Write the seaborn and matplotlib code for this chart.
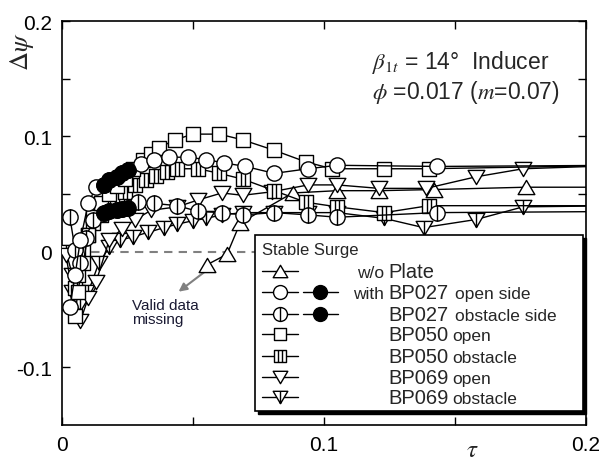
import numpy as np
import pandas as pd
import matplotlib
matplotlib.use("Agg")
import matplotlib.pyplot as plt
import seaborn as sns
from matplotlib.path import Path
from matplotlib.patches import Rectangle

# ---------------- data ----------------
wo_tau = [0.0555, 0.063, 0.068, 0.088, 0.105, 0.121, 0.142, 0.177, 0.215]
wo_psi = [-0.011, -0.002, 0.025, 0.051, 0.053, 0.053, 0.054, 0.056, 0.056]

bp027o_tau = [0.003, 0.005, 0.007, 0.010, 0.013, 0.016, 0.018, 0.021, 0.023, 0.025,
              0.030, 0.035, 0.041, 0.048, 0.055, 0.062, 0.070, 0.081, 0.094, 0.105, 0.143, 0.215]
bp027o_psi = [-0.048, -0.020, 0.010, 0.042, 0.056, 0.058, 0.062, 0.065, 0.068, 0.071,
              0.076, 0.080, 0.082, 0.082, 0.080, 0.077, 0.074, 0.068, 0.072, 0.075, 0.074, 0.075]
bp027o_surge = [False] * 5 + [True] * 5 + [False] * 12

bp027b_tau = [0.003, 0.005, 0.007, 0.009, 0.012, 0.016, 0.018, 0.021, 0.023, 0.025,
              0.029, 0.035, 0.044, 0.052, 0.061, 0.069, 0.081, 0.094, 0.105, 0.143, 0.215]
bp027b_psi = [0.030, 0.002, -0.010, 0.012, 0.028, 0.034, 0.035, 0.036, 0.037, 0.038,
              0.043, 0.042, 0.040, 0.035, 0.034, 0.032, 0.034, 0.032, 0.030, 0.034, 0.035]
bp027b_surge = [False] * 5 + [True] * 5 + [False] * 11

bp050o_tau = [0.005, 0.006, 0.008, 0.010, 0.012, 0.015, 0.018, 0.021, 0.024, 0.027, 0.031, 0.034,
              0.037, 0.043, 0.050, 0.060, 0.069, 0.081, 0.093, 0.103, 0.123, 0.140, 0.215]
bp050o_psi = [-0.056, -0.035, -0.010, 0.015, 0.030, 0.042, 0.050, 0.057, 0.063, 0.072, 0.080, 0.085,
              0.090, 0.097, 0.102, 0.102, 0.097, 0.088, 0.078, 0.072, 0.072, 0.072, 0.075]

bp050b_tau = [0.005, 0.006, 0.008, 0.010, 0.012, 0.015, 0.018, 0.021, 0.024, 0.028, 0.032, 0.036,
              0.040, 0.044, 0.052, 0.060, 0.069, 0.081, 0.093, 0.105, 0.123, 0.140, 0.215]
bp050b_psi = [-0.031, -0.020, 0.000, 0.015, 0.025, 0.032, 0.040, 0.046, 0.052, 0.058, 0.062, 0.066,
              0.069, 0.072, 0.072, 0.068, 0.063, 0.053, 0.043, 0.039, 0.034, 0.040, 0.040]

bp069o_tau = [0.0015, 0.004, 0.007, 0.010, 0.013, 0.018, 0.023, 0.028, 0.034, 0.044, 0.052,
              0.061, 0.069, 0.080, 0.094, 0.105, 0.121, 0.139, 0.158, 0.176, 0.215]
bp069o_psi = [-0.003, -0.035, -0.060, -0.040, -0.026, 0.010, 0.020, 0.028, 0.036, 0.039, 0.045,
              0.051, 0.049, 0.052, 0.058, 0.058, 0.055, 0.055, 0.065, 0.072, 0.075]

bp069b_tau = [0.0015, 0.004, 0.007, 0.010, 0.014, 0.018, 0.022, 0.027, 0.033, 0.039, 0.044, 0.050,
              0.055, 0.061, 0.069, 0.081, 0.094, 0.105, 0.123, 0.138, 0.158, 0.176, 0.215]
bp069b_psi = [0.000, -0.020, -0.045, -0.035, -0.010, 0.004, 0.010, 0.013, 0.017, 0.021, 0.024, 0.027,
              0.029, 0.032, 0.034, 0.034, 0.034, 0.034, 0.029, 0.021, 0.028, 0.039, 0.040]

x_ticks = [0, 0.05, 0.1, 0.15, 0.2]
x_ticklabels = ["0", "", "0.1", "", "0.2"]
y_ticks = [-0.1, -0.05, 0, 0.05, 0.1, 0.15, 0.2]
y_ticklabels = ["-0.1", "", "0", "", "0.1", "", "0.2"]

# ---------------- markers ----------------
M, L = Path.MOVETO, Path.LINETO
def compound(outline, lines):
    paths = [outline]
    for (a, b) in lines:
        paths.append(Path([a, b], [M, L]))
    return Path.make_compound_path(*paths)

circ = Path.unit_circle()
circ_bar = compound(circ, [((0, -1), (0, 1))])
sq = Path([(-1, -1), (1, -1), (1, 1), (-1, 1), (-1, -1)], [M, L, L, L, Path.CLOSEPOLY])
sq_bar = compound(sq, [((-0.33, -1), (-0.33, 1)), ((0.33, -1), (0.33, 1))])
tri_up = Path([(-1, -0.85), (1, -0.85), (0, 0.85), (-1, -0.85)], [M, L, L, Path.CLOSEPOLY])
tri_dn = Path([(-1, 0.85), (1, 0.85), (0, -0.85), (-1, 0.85)], [M, L, L, Path.CLOSEPOLY])
tri_dn_bar = compound(tri_dn, [((0, 0.85), (0, -0.85))])

# ---------------- style ----------------
sns.set_style("ticks")
plt.rcParams["font.family"] = ["Liberation Sans", "DejaVu Sans"]
plt.rcParams["mathtext.fontset"] = "stix"

W, H = 606, 464
fig = plt.figure(figsize=(W / 100, H / 100), dpi=100)
AX_L, AX_R, AX_T, AX_B = 62, 586, 22, 426
ax = fig.add_axes([AX_L / W, 1 - AX_B / H, (AX_R - AX_L) / W, (AX_B - AX_T) / H])

def axp(px, py):
    return ((px - AX_L) / (AX_R - AX_L), (AX_B - py) / (AX_B - AX_T))

ax.axhline(0, xmin=0, xmax=0.4, color="#808080", ls="--", lw=1.5, dashes=(4, 3), zorder=1)

series = [
    ("w/o Plate", wo_tau, wo_psi, tri_up, 12),
    ("BP069 obstacle", bp069b_tau, bp069b_psi, tri_dn_bar, 12),
    ("BP069 open", bp069o_tau, bp069o_psi, tri_dn, 12),
    ("BP050 obstacle", bp050b_tau, bp050b_psi, sq_bar, 10.5),
    ("BP050 open", bp050o_tau, bp050o_psi, sq, 10.5),
    ("BP027 obstacle", bp027b_tau, bp027b_psi, circ_bar, 11),
    ("BP027 open", bp027o_tau, bp027o_psi, circ, 11),
]
for i, (name, t, p, mk, ms) in enumerate(series):
    df = pd.DataFrame({"tau": t, "psi": p})
    sns.lineplot(data=df, x="tau", y="psi", ax=ax, sort=False, estimator=None,
                 color="black", lw=1.0, marker=mk, markersize=ms, mfc="white",
                 mec="black", mew=1.0, zorder=3 + i, clip_on=True)

for t, p, s in [(bp027o_tau, bp027o_psi, bp027o_surge), (bp027b_tau, bp027b_psi, bp027b_surge)]:
    df = pd.DataFrame({"tau": t, "psi": p, "surge": s})
    df = df[df["surge"]]
    sns.lineplot(data=df, x="tau", y="psi", ax=ax, sort=False, estimator=None,
                 color="black", lw=1.0, marker="o", markersize=11, mfc="black",
                 mec="black", mew=1.0, zorder=12)

ax.set_xlim(0, 0.2)
ax.set_ylim(-0.15, 0.2)
ax.set_xticks(x_ticks)
ax.set_xticklabels(x_ticklabels)
ax.set_yticks(y_ticks)
ax.set_yticklabels(y_ticklabels)
ax.tick_params(direction="in", length=6, width=1.0, top=True, right=True,
               labelsize=15, colors="black", pad=7)
for s in ax.spines.values():
    s.set_linewidth(1.2)
    s.set_color("black")
ax.set_xlabel("")
ax.set_ylabel("")

# axis titles
fig.text(22 / W, 1 - 52 / H, r"$\mathit{\Delta\psi}$", rotation=90, fontsize=19,
         ha="center", va="center")
fig.text(472 / W, 1 - 450 / H, r"$\tau$", fontsize=18, ha="center", va="center")

# annotations
ax.text(*axp(372, 62), r"$\beta_{1t}$ = 14°  Inducer", transform=ax.transAxes,
        fontsize=16.5, ha="left", va="center")
ax.text(*axp(372, 93), r"$\phi$ =0.017 ($m$=0.07)", transform=ax.transAxes,
        fontsize=16.5, ha="left", va="center")

ax.annotate("", xy=(0.0445, -0.0345), xytext=(0.0555, -0.0155),
            arrowprops=dict(arrowstyle="-|>", color="#808080", lw=1.5,
                            mutation_scale=12, shrinkA=0, shrinkB=0), zorder=2)
ax.text(*axp(132, 313), "Valid data\nmissing", transform=ax.transAxes, fontsize=11,
        ha="left", va="center", color="#1a1a33", linespacing=1.05)

# ---------------- manual legend ----------------
lx0, ly0 = axp(255, 412)
lx1, ly1 = axp(583, 236)
off_x = 3 / (AX_R - AX_L)
off_y = 2.5 / (AX_B - AX_T)
ax.add_patch(Rectangle((lx0 + off_x, ly0 - off_y), lx1 - lx0, ly1 - ly0, transform=ax.transAxes,
                       fc="black", ec="black", lw=1, zorder=20, clip_on=False))
ax.add_patch(Rectangle((lx0, ly0), lx1 - lx0, ly1 - ly0, transform=ax.transAxes,
                       fc="white", ec="black", lw=1.2, zorder=21, clip_on=False))

ax.text(*axp(262, 250), "Stable Surge", transform=ax.transAxes, fontsize=12,
        ha="left", va="center", zorder=22)

row_y = [272, 293, 315, 335, 357, 378, 398]
row_markers = [(tri_up, 10.5, False), (circ, 10, True), (circ_bar, 10, True), (sq, 9, False),
               (sq_bar, 9, False), (tri_dn, 10.5, False), (tri_dn_bar, 10.5, False)]
row_texts = [
    [(357, "w/o", 12.5), (388, "Plate", 14.5)],
    [(353, "with", 12.5), (388, "BP027", 14.5), (455, "open side", 12.5)],
    [(388, "BP027", 14.5), (455, "obstacle side", 12.5)],
    [(388, "BP050", 14.5), (452, "open", 12.5)],
    [(388, "BP050", 14.5), (452, "obstacle", 12.5)],
    [(388, "BP069", 14.5), (452, "open", 12.5)],
    [(388, "BP069", 14.5), (452, "obstacle", 12.5)],
]
for yy, (mk, ms, surge), texts in zip(row_y, row_markers, row_texts):
    a0 = axp(262, yy); a1 = axp(298, yy); ac = axp(280, yy)
    ax.plot([a0[0], a1[0]], [a0[1], a1[1]], transform=ax.transAxes, color="black",
            lw=1.0, zorder=22, clip_on=False)
    ax.plot([ac[0]], [ac[1]], transform=ax.transAxes, marker=mk, markersize=ms,
            mfc="white", mec="black", mew=1.0, zorder=23, clip_on=False, ls="none")
    if surge:
        b0 = axp(303, yy); b1 = axp(338, yy); bc = axp(320, yy)
        ax.plot([b0[0], b1[0]], [b0[1], b1[1]], transform=ax.transAxes, color="black",
                lw=1.0, zorder=22, clip_on=False)
        ax.plot([bc[0]], [bc[1]], transform=ax.transAxes, marker="o", markersize=ms,
                mfc="black", mec="black", zorder=23, clip_on=False, ls="none")
    for (px, s, fs) in texts:
        ax.text(*axp(px, yy + 6), s, transform=ax.transAxes, fontsize=fs,
                ha="left", va="baseline", zorder=23)

fig.savefig("out.png", dpi=100)
